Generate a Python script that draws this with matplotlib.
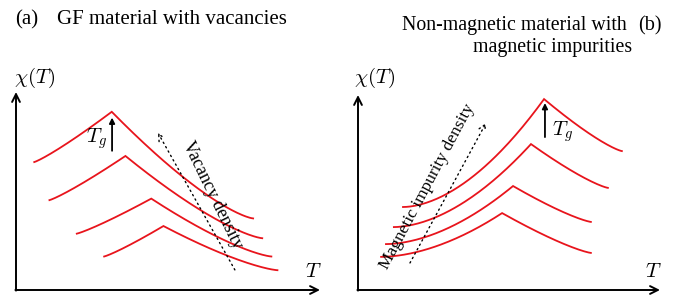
import numpy as np
import matplotlib.pyplot as plt

plt.rcParams['font.family'] = ['Liberation Serif', 'DejaVu Serif']
plt.rcParams['mathtext.fontset'] = 'cm'

# schematic susceptibility curves: left end, peak (T_g), right end
# panel (a): GF material with vacancies
tl_a = [0.6, 1.1, 2.0, 2.9]
cl_a = [4.2, 2.95, 1.85, 1.1]
tg_a = [3.15, 3.6, 4.45, 4.85]
cp_a = [5.85, 4.4, 3.0, 2.1]
tr_a = [7.8, 8.1, 8.4, 8.6]
cr_a = [2.35, 1.7, 1.1, 0.65]

# panel (b): non-magnetic material with magnetic impurities
tl_b = [1.48, 1.18, 0.92, 0.76]
cl_b = [2.73, 2.07, 1.51, 1.09]
tg_b = [6.12, 5.69, 5.10, 4.74]
cp_b = [6.28, 4.80, 3.42, 2.53]
tr_b = [8.68, 8.22, 7.66, 7.66]
cr_b = [4.57, 3.36, 2.24, 1.22]

RED = '#e8141c'
DOTS = (0, (1, 2.6))


def cusp(ax, tl, cl, tg, cp, tr, cr, p_up, q_down):
    s = np.linspace(0, 1, 80)
    # rising branch up to the cusp
    x1 = tl + (tg - tl) * s
    y1 = cl + (cp - cl) * s**p_up
    # decaying branch after the cusp
    x2 = tg + (tr - tg) * s
    y2 = cp + (cr - cp) * (1 - (1 - s)**q_down)
    ax.plot(np.r_[x1, x2], np.r_[y1, y2], color=RED, lw=1.3,
            solid_joinstyle='miter', clip_on=False)


def axes_arrows(ax, xmax, ymax):
    kw = dict(arrowstyle='->', lw=1.4, color='black', mutation_scale=14,
              shrinkA=0, shrinkB=0)
    ax.annotate('', xy=(xmax, 0), xytext=(-0.02, 0), arrowprops=kw,
                annotation_clip=False)
    ax.annotate('', xy=(0, ymax), xytext=(0, -0.02), arrowprops=kw,
                annotation_clip=False)


fig = plt.figure(figsize=(6.99, 2.95), dpi=100)
W, H = 699, 295
ax_a = fig.add_axes([16 / W, 5 / H, 304 / W, 198 / H])
ax_b = fig.add_axes([358 / W, 5 / H, 302 / W, 195 / H])
ax_a.set_xlim(0, 10)
ax_a.set_ylim(0, 6.5)
ax_b.set_xlim(0, 302 / 30.4)
ax_b.set_ylim(0, 195 / 30.4)
for ax in (ax_a, ax_b):
    ax.axis('off')

# ---- panel (a)
for i in range(4):
    cusp(ax_a, tl_a[i], cl_a[i], tg_a[i], cp_a[i], tr_a[i], cr_a[i], 1.15, 1.35)
axes_arrows(ax_a, 10, 6.5)
ax_a.annotate('', xy=(3.16, 5.66), xytext=(3.16, 4.57),
              arrowprops=dict(arrowstyle='-|>', lw=1.3, color='black',
                              mutation_scale=8, shrinkA=0, shrinkB=0))
ax_a.text(3.0, 4.84, r'$T_g$', fontsize=15, ha='right', va='baseline')
ax_a.annotate('', xy=(4.67, 5.16), xytext=(7.2, 0.66),
              arrowprops=dict(arrowstyle='->', lw=1.0, ls=DOTS, color='black',
                              mutation_scale=12, shrinkA=0, shrinkB=0))
ax_a.text(6.45, 3.1, 'Vacancy density', fontsize=13, rotation=-64,
          rotation_mode='anchor', ha='center', va='center')
ax_a.text(-0.05, 6.8, r'$\chi(T)$', fontsize=15, ha='left', va='baseline')
ax_a.text(9.5, 0.43, r'$T$', fontsize=15, ha='left', va='baseline')
ax_a.text(-0.03, 8.72, '(a)', fontsize=15, ha='left', va='baseline')
ax_a.text(1.35, 8.72, 'GF material with vacancies', fontsize=15,
          ha='left', va='baseline')

# ---- panel (b)
for i in range(4):
    cusp(ax_b, tl_b[i], cl_b[i], tg_b[i], cp_b[i], tr_b[i], cr_b[i], 1.8, 1.25)
axes_arrows(ax_b, 302 / 30.4, 195 / 30.4)
ax_b.annotate('', xy=(6.15, 6.15), xytext=(6.15, 5.03),
              arrowprops=dict(arrowstyle='-|>', lw=1.3, color='black',
                              mutation_scale=8, shrinkA=0, shrinkB=0))
ax_b.text(6.38, 5.1, r'$T_g$', fontsize=15, ha='left', va='baseline')
ax_b.annotate('', xy=(4.21, 5.49), xytext=(1.71, 0.89),
              arrowprops=dict(arrowstyle='->', lw=1.0, ls=DOTS, color='black',
                              mutation_scale=12, shrinkA=0, shrinkB=0))
ax_b.text(2.27, 3.39, 'Magnetic impurity density', fontsize=12.5, rotation=62,
          rotation_mode='anchor', ha='center', va='center')
ax_b.text(-0.12, 6.8, r'$\chi(T)$', fontsize=15, ha='left', va='baseline')
ax_b.text(9.44, 0.43, r'$T$', fontsize=15, ha='left', va='baseline')
ax_b.text(8.85, 8.55, 'Non-magnetic material with', fontsize=14.3,
          ha='right', va='baseline')
ax_b.text(9.01, 7.83, 'magnetic impurities', fontsize=14.3,
          ha='right', va='baseline')
ax_b.text(9.21, 8.55, '(b)', fontsize=14.5, ha='left', va='baseline')

fig.savefig('out.png', dpi=100)
